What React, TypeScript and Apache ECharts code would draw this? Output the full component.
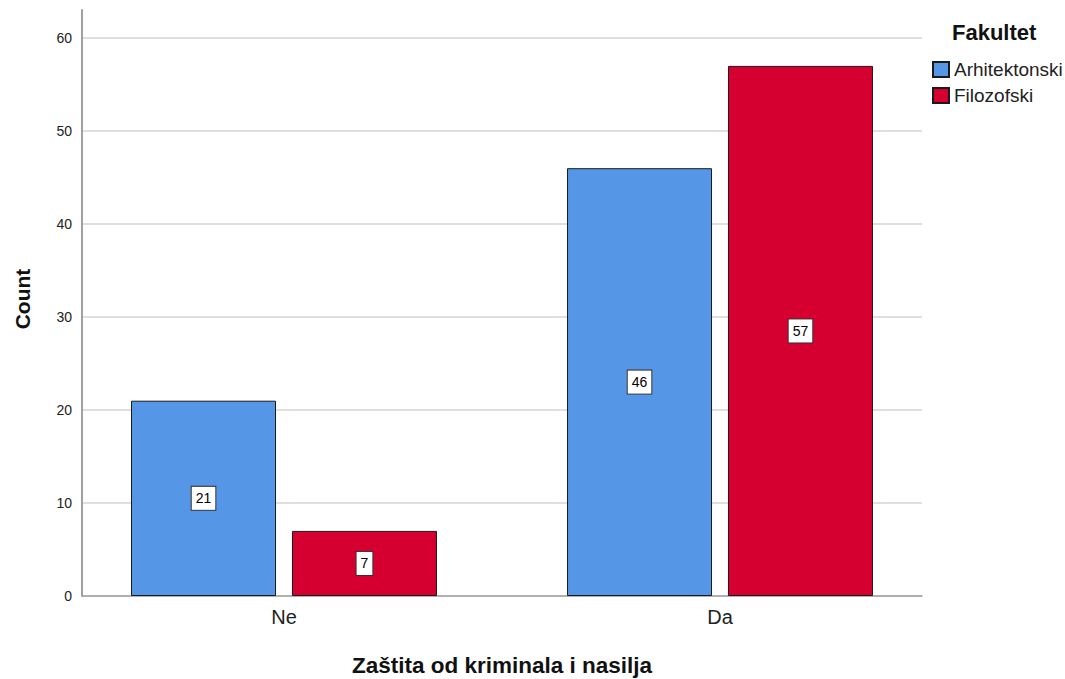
import React, { useEffect, useRef } from "react";
import * as echarts from "echarts";

const categories = ["Ne", "Da"];
const seriesNames = ["Arhitektonski", "Filozofski"];
const arhitektonski = [21, 46];
const filozofski = [7, 57];
const yTicks = [0, 10, 20, 30, 40, 50, 60];
const legendTitle = "Fakultet";
const xTitle = "Zaštita od kriminala i nasilja";
const yTitle = "Count";

const FONT = "'Liberation Sans', Arial, sans-serif";
const BLUE = "#5596e6";
const RED = "#d5002f";

export default function App() {
  const ref = useRef<HTMLDivElement>(null);
  useEffect(() => {
    if (!ref.current) return;
    const chart = echarts.init(ref.current, undefined, { renderer: "svg" });
    const labelStyle = {
      show: true,
      position: "inside",
      color: "#000",
      fontSize: 14,
      fontFamily: FONT,
      backgroundColor: "#fff",
      borderColor: "#333",
      borderWidth: 1,
      padding: [5, 4, 4, 4],
    };
    chart.setOption({
      animation: false,
      textStyle: { fontFamily: FONT },
      grid: [
        { left: 82, right: 143, top: 10, bottom: 83 },
        { left: 82, right: 143, top: 38, bottom: 83 },
        { left: 66, right: 127, top: 38, bottom: 83 },
      ],
      xAxis: [
        {
          gridIndex: 0, type: "value", min: 0, max: 1,
          axisLine: { show: true, lineStyle: { color: "#a0a0a0", width: 1.5 } },
          axisTick: { show: false }, axisLabel: { show: false }, splitLine: { show: false },
        },
        {
          gridIndex: 1, type: "value", min: 0, max: 1, show: false,
        },
        {
          gridIndex: 2, type: "category", data: categories,
          axisLine: { show: false }, axisTick: { show: false },
          axisLabel: { color: "#222", fontSize: 20, margin: 11, fontFamily: FONT },
        },
      ],
      yAxis: [
        {
          gridIndex: 0, type: "value", min: 0, max: 63,
          axisLine: { show: true, lineStyle: { color: "#a0a0a0", width: 2 } },
          axisTick: { show: false }, axisLabel: { show: false }, splitLine: { show: false },
        },
        {
          gridIndex: 1, type: "value", min: yTicks[0], max: yTicks[yTicks.length - 1], interval: 10,
          axisLine: { show: false }, axisTick: { show: false },
          axisLabel: { color: "#222", fontSize: 14, margin: 10, fontFamily: FONT },
          splitLine: { show: true, lineStyle: { color: "#d4d4d4", width: 1.5 } },
        },
        {
          gridIndex: 2, type: "value", min: yTicks[0], max: yTicks[yTicks.length - 1], show: false,
        },
      ],
      legend: {
        orient: "vertical",
        left: 927,
        top: 55,
        itemWidth: 16,
        itemHeight: 15,
        itemGap: 7,
        icon: "rect",
        textStyle: { fontSize: 19, color: "#222", fontFamily: FONT },
        data: seriesNames,
      },
      series: [
        {
          name: seriesNames[0], type: "bar", xAxisIndex: 2, yAxisIndex: 2,
          data: arhitektonski, barWidth: 145, barGap: "11%",
          itemStyle: { color: BLUE, borderColor: "#1a1a1a", borderWidth: 1 },
          label: labelStyle,
        },
        {
          name: seriesNames[1], type: "bar", xAxisIndex: 2, yAxisIndex: 2,
          data: filozofski, barWidth: 145, barGap: "11%",
          itemStyle: { color: RED, borderColor: "#1a1a1a", borderWidth: 1 },
          label: labelStyle,
        },
      ],
      graphic: [
        {
          type: "text", x: 952, y: 32,
          style: { text: legendTitle, font: `bold 22px ${FONT}`, fill: "#111", align: "left", verticalAlign: "middle" },
        },
        {
          type: "text", x: 22, y: 299, rotation: Math.PI / 2,
          style: { text: yTitle, font: `bold 21px ${FONT}`, fill: "#111", align: "center", verticalAlign: "middle" },
        },
        {
          type: "text", x: 502, y: 665,
          style: { text: xTitle, font: `bold 22.5px ${FONT}`, fill: "#111", align: "center", verticalAlign: "middle" },
        },
      ],
    });
    return () => chart.dispose();
  }, []);
  return <div ref={ref} style={{ width: 1065, height: 679, position: "absolute", left: 0, top: 0 }} />;
}
